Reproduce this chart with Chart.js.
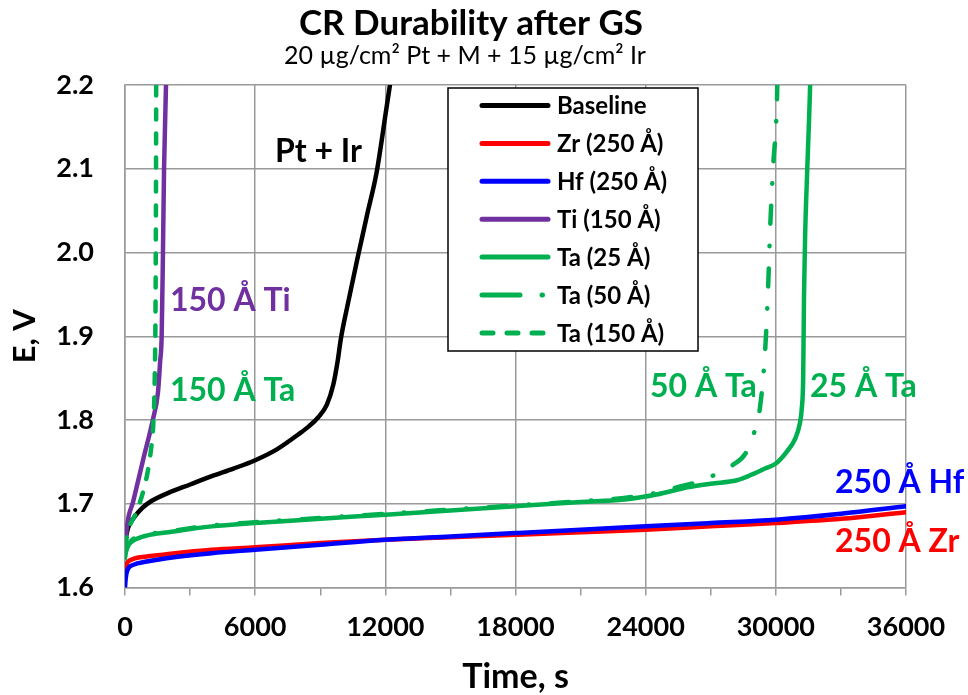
<!DOCTYPE html>
<html>
<head>
<meta charset="utf-8">
<title>CR Durability after GS</title>
<script src="https://cdn.jsdelivr.net/npm/chart.js@4.4.1/dist/chart.umd.min.js"></script>
<style>
    html, body { margin: 0; padding: 0; background: #fff; }
    #durabilityChart { display: block; }
</style>
</head>
<body>
<canvas id="durabilityChart" width="968" height="695"></canvas>
<script>
// Time (s) and cell potential (V) for each coating
const baselineTime = [0, 150, 400, 800, 1200, 2000, 3000, 4000, 5000, 6000, 7000, 8000, 8500, 8900, 9300, 9600, 9800, 9950, 10250, 10700, 11150, 11600, 12050, 12300];
const baselineVolts = [1.655, 1.672, 1.683, 1.695, 1.703, 1.713, 1.723, 1.733, 1.742, 1.752, 1.765, 1.783, 1.793, 1.803, 1.818, 1.842, 1.870, 1.897, 1.936, 1.991, 2.044, 2.096, 2.172, 2.215];

const zrTime = [0, 50, 200, 1000, 2000, 4000, 6000, 9000, 12000, 15000, 18000, 21000, 24000, 27000, 30000, 33000, 36000];
const zrVolts = [1.612, 1.625, 1.632, 1.637, 1.640, 1.645, 1.648, 1.653, 1.657, 1.660, 1.663, 1.666, 1.669, 1.673, 1.677, 1.682, 1.690];

const hfTime = [0, 30, 100, 380, 1000, 1920, 4000, 6000, 9000, 12000, 15000, 18000, 21000, 24000, 27000, 30000, 33000, 36000];
const hfVolts = [1.600, 1.610, 1.620, 1.627, 1.631, 1.635, 1.641, 1.645, 1.651, 1.657, 1.661, 1.665, 1.669, 1.673, 1.677, 1.681, 1.688, 1.697];

const tiTime = [0, 100, 380, 830, 1290, 1520, 1620, 1690, 1750, 1800, 1890, 1920];
const tiVolts = [1.645, 1.675, 1.703, 1.752, 1.801, 1.833, 1.870, 1.900, 2.000, 2.100, 2.200, 2.250];

const ta25Time = [0, 60, 200, 380, 1000, 2000, 4000, 6000, 9000, 12000, 15000, 18000, 21000, 23000, 24500, 26000, 27000, 28200, 29000, 29500, 30000, 30500, 30900, 31100, 31200, 31260, 31300, 31350, 31450, 31580, 31620];
const ta25Volts = [1.635, 1.645, 1.652, 1.656, 1.662, 1.666, 1.673, 1.677, 1.682, 1.687, 1.692, 1.697, 1.702, 1.705, 1.711, 1.720, 1.724, 1.728, 1.736, 1.742, 1.748, 1.762, 1.778, 1.795, 1.815, 1.850, 1.950, 2.020, 2.100, 2.200, 2.250];

const ta50Time = [0, 200, 1000, 2000, 4000, 6000, 9000, 12000, 15000, 18000, 21000, 23000, 24500, 25500, 26500, 27300, 28000, 28600, 29000, 29270, 29500, 29640, 29740, 29870, 30060, 30100];
const ta50Volts = [1.640, 1.653, 1.663, 1.667, 1.674, 1.678, 1.683, 1.688, 1.693, 1.698, 1.703, 1.707, 1.713, 1.720, 1.727, 1.736, 1.746, 1.760, 1.785, 1.815, 1.880, 1.955, 2.030, 2.100, 2.190, 2.250];

const ta150Time = [0, 150, 540, 1000, 1200, 1300, 1370, 1410, 1430, 1440];
const ta150Volts = [1.648, 1.668, 1.691, 1.732, 1.765, 1.793, 1.850, 1.950, 2.100, 2.250];

const seriesNames = ['Baseline', 'Zr (250 Å)', 'Hf (250 Å)', 'Ti (150 Å)', 'Ta (25 Å)', 'Ta (50 Å)', 'Ta (150 Å)'];

const FONT = "Lato, 'Open Sans', sans-serif";
const GRID = '#9a9a9a';
const GREEN = '#00b050';
const PURPLE = '#7030a0';

const toPoints = (times, volts) => times.map((t, i) => ({ x: t, y: volts[i] }));

function lineSet(index, times, volts, color, extra) {
    return Object.assign({
        label: seriesNames[index],
        data: toPoints(times, volts),
        borderColor: color,
        backgroundColor: color,
        borderWidth: 4.5,
        pointRadius: 0,
        cubicInterpolationMode: 'monotone',
        borderCapStyle: 'round',
        borderJoinStyle: 'round',
        clip: 0,
        // later series sit on top, like the legend order
        order: 7 - index,
    }, extra || {});
}

const datasets = [
    lineSet(0, baselineTime, baselineVolts, '#000000'),
    lineSet(1, zrTime, zrVolts, '#ff0000'),
    lineSet(2, hfTime, hfVolts, '#0000ff'),
    lineSet(3, tiTime, tiVolts, PURPLE),
    lineSet(4, ta25Time, ta25Volts, GREEN),
    lineSet(5, ta50Time, ta50Volts, GREEN, { borderDash: [18, 22, 0.5, 22], legendDash: [38, 22, 0.5, 40] }),
    lineSet(6, ta150Time, ta150Volts, GREEN, { borderDash: [10, 14], legendDash: [11, 14] }),
];

// text next to the curves, anchored in data units (left / baseline)
const curveNotes = [
    { text: 'Pt + Ir', color: '#000000', t: 6914, v: 2.1077 },
    { text: '150 Å Ti', color: PURPLE, t: 2074, v: 1.9302 },
    { text: '150 Å Ta', color: GREEN, t: 2074, v: 1.8229 },
    { text: '50 Å Ta', color: GREEN, t: 24200, v: 1.8269 },
    { text: '25 Å Ta', color: GREEN, t: 31575, v: 1.8269 },
    { text: '250 Å Hf', color: '#0000ff', t: 32728, v: 1.7128 },
    { text: '250 Å Zr', color: '#ff0000', t: 32728, v: 1.6427 },
];

const decorations = {
    id: 'decorations',
    afterDatasetsDraw(chart) {
        const { ctx, scales } = chart;
        ctx.save();

        ctx.font = `bold 32px ${FONT}`;
        ctx.textAlign = 'left';
        ctx.textBaseline = 'alphabetic';
        curveNotes.forEach((n) => {
            ctx.fillStyle = n.color;
            ctx.fillText(n.text, scales.x.getPixelForValue(n.t), scales.y.getPixelForValue(n.v));
        });

        // legend box inside the plot
        const box = { left: 448, top: 88, right: 698, bottom: 351 };
        ctx.fillStyle = '#ffffff';
        ctx.fillRect(box.left, box.top, box.right - box.left, box.bottom - box.top);
        ctx.strokeStyle = '#000000';
        ctx.lineWidth = 1.5;
        ctx.strokeRect(box.left, box.top, box.right - box.left, box.bottom - box.top);

        ctx.font = `bold 24px ${FONT}`;
        ctx.textBaseline = 'middle';
        chart.data.datasets.forEach((ds, i) => {
            const rowY = 105.5 + i * 37.9;
            ctx.beginPath();
            ctx.setLineDash(ds.legendDash || []);
            ctx.lineCap = 'round';
            ctx.lineWidth = 5;
            ctx.strokeStyle = ds.borderColor;
            ctx.moveTo(482, rowY);
            ctx.lineTo(548, rowY);
            ctx.stroke();
            ctx.setLineDash([]);
            ctx.fillStyle = '#000000';
            ctx.fillText(ds.label, 557, rowY + 1);
        });

        // heading
        ctx.textAlign = 'center';
        ctx.fillStyle = '#000000';
        ctx.font = `bold 35px ${FONT}`;
        ctx.fillText('CR Durability after GS', 471, 24);
        ctx.font = `25px ${FONT}`;
        ctx.fillText('20 µg/cm² Pt + M + 15 µg/cm² Ir', 465, 56);
        ctx.restore();
    },
};

function buildChart() {
    const canvas = document.getElementById('durabilityChart');
    return new Chart(canvas.getContext('2d'), {
        type: 'line',
        data: { datasets },
        plugins: [decorations],
        options: {
            responsive: false,
            animation: false,
            devicePixelRatio: 1,
            layout: { padding: { top: 85, right: 62, left: 0, bottom: 0 } },
            plugins: {
                legend: { display: false },
                title: { display: false },
                tooltip: { enabled: false },
            },
            scales: {
                x: {
                    type: 'linear',
                    min: 0,
                    max: 36000,
                    afterFit: (s) => { s.height = 107.5; },
                    border: { color: GRID, width: 1.5 },
                    grid: {
                        color: (c) => (c.tick && c.tick.value % 6000 === 0 ? GRID : 'rgba(0,0,0,0)'),
                        tickColor: GRID,
                        lineWidth: 1.5,
                        tickLength: 8,
                    },
                    ticks: {
                        stepSize: 3000,
                        autoSkip: false,
                        maxRotation: 0,
                        padding: 16,
                        color: '#000000',
                        font: { family: FONT, size: 27, weight: 'bold' },
                        callback: (v) => (v % 6000 === 0 ? String(v) : ''),
                    },
                    title: {
                        display: true,
                        text: 'Time, s',
                        color: '#000000',
                        font: { family: FONT, size: 34, weight: 'bold', lineHeight: 1 },
                        padding: { top: 0, bottom: 1 },
                    },
                },
                y: {
                    min: 1.6,
                    max: 2.2,
                    afterFit: (s) => { s.width = 125; },
                    border: { color: GRID, width: 1.5 },
                    grid: { color: GRID, lineWidth: 1.5, drawTicks: false },
                    ticks: {
                        stepSize: 0.1,
                        padding: 31,
                        color: '#000000',
                        font: { family: FONT, size: 27, weight: 'bold' },
                        callback: (v) => Number(v).toFixed(1),
                    },
                    title: {
                        display: true,
                        text: 'E, V',
                        color: '#000000',
                        font: { family: FONT, size: 31, weight: 'bold', lineHeight: 1 },
                        padding: { top: 9, bottom: 0 },
                    },
                },
            },
        },
    });
}

Promise.all([
    document.fonts.load(`bold 27px ${FONT}`),
    document.fonts.load(`22px ${FONT}`),
]).catch(() => null).then(buildChart);
</script>
</body>
</html>
